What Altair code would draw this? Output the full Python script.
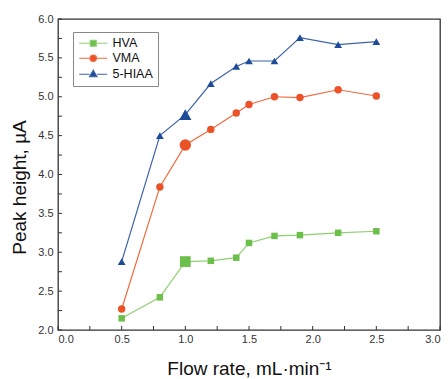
import altair as alt
import pandas as pd

# ---- data ----
flow = [0.5, 0.8, 1.0, 1.2, 1.4, 1.5, 1.7, 1.9, 2.2, 2.5]
hva = [2.15, 2.42, 2.88, 2.89, 2.93, 3.12, 3.21, 3.22, 3.25, 3.27]
vma = [2.27, 3.84, 4.38, 4.58, 4.79, 4.90, 5.00, 4.99, 5.09, 5.01]
hiaa = [2.88, 4.50, 4.77, 5.17, 5.39, 5.46, 5.46, 5.76, 5.67, 5.71]
series = ["HVA", "VMA", "5-HIAA"]
highlight_flow = 1.0

x_labels = [0.0, 0.5, 1.0, 1.5, 2.0, 2.5, 3.0]
y_labels = [2.0, 2.5, 3.0, 3.5, 4.0, 4.5, 5.0, 5.5, 6.0]
x_ticks = [0.0, 0.25, 0.5, 0.75, 1.0, 1.25, 1.5, 1.75, 2.0, 2.25, 2.5, 2.75, 3.0]
y_ticks = [2.0, 2.25, 2.5, 2.75, 3.0, 3.25, 3.5, 3.75, 4.0, 4.25, 4.5, 4.75,
           5.0, 5.25, 5.5, 5.75, 6.0]

rows = []
for name, vals in zip(series, [hva, vma, hiaa]):
    for f, v in zip(flow, vals):
        rows.append({"flow": f, "val": v, "series": name})
df = pd.DataFrame(rows)
df_xt = pd.DataFrame({"flow": x_ticks})
df_yt = pd.DataFrame({"val": y_ticks})

# ---- styles ----
W, H = 382, 311
FONT = "Liberation Sans"
marker_colors = ["#6cbf4a", "#ec5228", "#1f4b9b"]
line_colors = ["#8fd071", "#ef6a3c", "#3d63a8"]
shapes = ["square", "circle", "triangle-up"]
small_sizes = [42, 55, 60]
big_sizes = [115, 130, 150]
legend_paths = [
    "M-1,0H1.2M2.4,0H4.6M1.2,-0.6H2.4V0.6H1.2Z",
    "M-1,0H1.15M2.45,0H4.6M1.15,0A0.65,0.65,0,1,1,2.45,0A0.65,0.65,0,1,1,1.15,0Z",
    "M-1,0H1.05M2.55,0H4.6M1.8,-0.8L2.55,0.5L1.05,0.5Z",
]

x_scale = alt.Scale(domain=[0, 3], nice=False, zero=False)
y_scale = alt.Scale(domain=[2, 6], nice=False, zero=False)
x_axis = alt.Axis(values=x_labels, format=".1f", tickSize=0, domain=False, grid=False,
                  labelPadding=3, labelFontSize=11, labelColor="#333", labelFont=FONT,
                  title="Flow rate, mL·min⁻¹", titleFont=FONT, titleFontSize=19,
                  titleFontWeight="normal", titleColor="#111",
                  titleY=44, titleBaseline="alphabetic")
y_axis = alt.Axis(values=y_labels, format=".1f", tickSize=0, domain=False, grid=False,
                  labelPadding=5, labelFontSize=11, labelColor="#333", labelFont=FONT,
                  title="Peak height, µA", titleFont=FONT, titleFontSize=19,
                  titleFontWeight="normal", titleColor="#111",
                  titleX=-33, titleY=168, titleBaseline="alphabetic")

X = alt.X("flow:Q", scale=x_scale, axis=x_axis)
Y = alt.Y("val:Q", scale=y_scale, axis=y_axis)

fill_scale = alt.Scale(domain=series, range=marker_colors)
stroke_scale = alt.Scale(domain=series, range=line_colors)

lines = alt.Chart(df).mark_line(strokeWidth=1.2).encode(
    x=X, y=Y,
    stroke=alt.Stroke("series:N", scale=stroke_scale, legend=None),
)

point_layers = []
for name, shp, s_small, s_big in zip(series, shapes, small_sizes, big_sizes):
    point_layers.append(
        alt.Chart(df).transform_filter(alt.datum.series == name)
        .mark_point(shape=shp, filled=True, opacity=1, strokeWidth=0)
        .encode(
            x=X, y=Y,
            fill=alt.Fill("series:N", scale=fill_scale, legend=None),
            size=alt.condition(f"datum.flow == {highlight_flow}",
                               alt.value(s_big), alt.value(s_small)),
        )
    )

leg = alt.Legend(title=None, orient="none", legendX=15, legendY=13,
                 strokeColor="#888", fillColor="white", padding=5,
                 labelFont=FONT, labelFontSize=12.5, labelColor="#111",
                 symbolSize=100, labelOffset=22, rowPadding=2,
                 symbolStrokeWidth=1.2, symbolOpacity=1)

legend_layer = alt.Chart(df).mark_point(filled=True, opacity=0).encode(
    x=X, y=Y,
    fill=alt.Fill("series:N", scale=fill_scale, legend=leg),
    stroke=alt.Stroke("series:N", scale=stroke_scale, legend=leg),
    shape=alt.Shape("series:N", scale=alt.Scale(domain=series, range=legend_paths), legend=leg),
)

x_tick_rules = alt.Chart(df_xt).mark_rule(color="#333", strokeWidth=1).encode(
    x=X, y=alt.value(H), y2=alt.value(H - 4))
y_tick_rules = alt.Chart(df_yt).mark_rule(color="#333", strokeWidth=1).encode(
    y=Y, x=alt.value(0), x2=alt.value(4))

chart = alt.layer(
    x_tick_rules, y_tick_rules, lines, *point_layers, legend_layer
).resolve_legend(
    fill="independent", stroke="independent", shape="independent"
).properties(
    width=W, height=H,
    padding={"left": 58, "top": 19, "right": 8, "bottom": 49},
    autosize=alt.AutoSizeParams(type="none"),
    background="white",
).configure_view(stroke="#333", strokeWidth=1.3)

chart.save("out.html", embed_options={"renderer": "svg", "actions": False})
